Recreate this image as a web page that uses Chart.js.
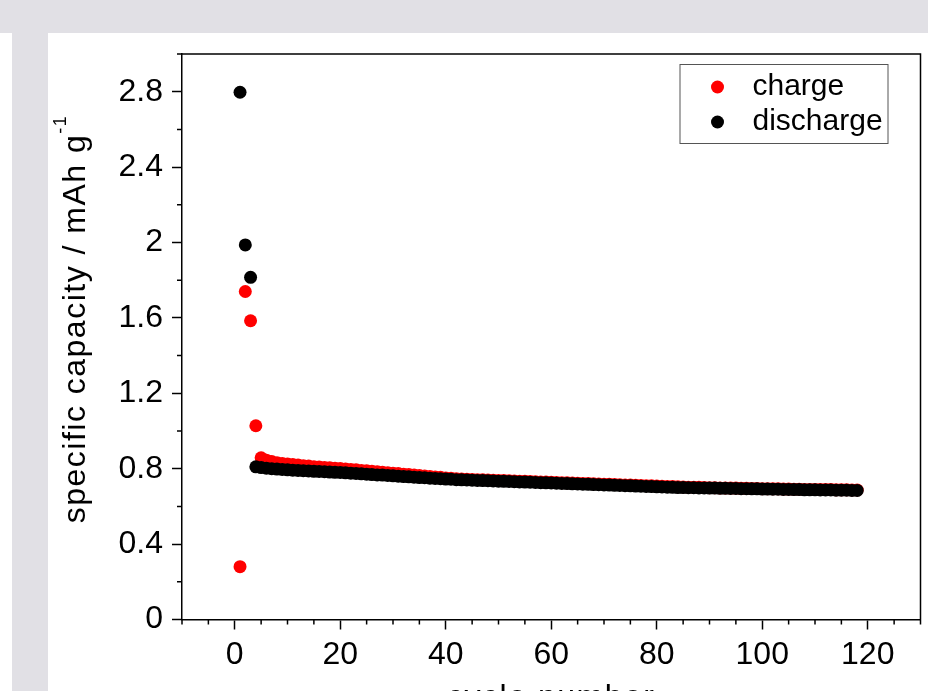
<!DOCTYPE html>
<html>
<head>
<meta charset="utf-8">
<title>specific capacity vs cycle number</title>
<script src="https://cdn.jsdelivr.net/npm/chart.js@4.4.1/dist/chart.umd.min.js"></script>
<style>
  html, body { margin: 0; padding: 0; background: #fff; overflow: hidden; }
  body { width: 928px; height: 691px; position: relative; }
  .band-top { position: absolute; left: 0; top: 0; width: 928px; height: 33px; background: #e1e0e5; }
  .band-left { position: absolute; left: 12px; top: 33px; width: 36px; height: 658px; background: #e1e0e5; }
  #capacity { position: absolute; left: 48px; top: 33px; }
</style>
</head>
<body>
<div class="band-top"></div>
<div class="band-left"></div>
<canvas id="capacity" width="880" height="658"></canvas>
<script>
// cycle index for every measured point
const cycles = [
  1, 2, 3, 4, 5, 6, 7, 8, 9, 10, 11, 12, 13, 14, 15, 16, 17, 18, 19, 20,
  21, 22, 23, 24, 25, 26, 27, 28, 29, 30, 31, 32, 33, 34, 35, 36, 37, 38, 39, 40,
  41, 42, 43, 44, 45, 46, 47, 48, 49, 50, 51, 52, 53, 54, 55, 56, 57, 58, 59, 60,
  61, 62, 63, 64, 65, 66, 67, 68, 69, 70, 71, 72, 73, 74, 75, 76, 77, 78, 79, 80,
  81, 82, 83, 84, 85, 86, 87, 88, 89, 90, 91, 92, 93, 94, 95, 96, 97, 98, 99, 100,
  101, 102, 103, 104, 105, 106, 107, 108, 109, 110, 111, 112, 113, 114, 115, 116, 117, 118
];

// specific capacity, mAh g^-1
const chargeCapacity = [
  0.280, 1.740, 1.585, 1.028, 0.858, 0.845, 0.838, 0.832, 0.828, 0.825,
  0.822, 0.819, 0.816, 0.814, 0.811, 0.809, 0.807, 0.805, 0.803, 0.801,
  0.799, 0.796, 0.794, 0.791, 0.789, 0.786, 0.784, 0.781, 0.779, 0.776,
  0.774, 0.771, 0.769, 0.766, 0.764, 0.761, 0.759, 0.756, 0.754, 0.751,
  0.749, 0.747, 0.745, 0.744, 0.743, 0.742, 0.741, 0.740, 0.739, 0.738,
  0.737, 0.736, 0.735, 0.734, 0.733, 0.732, 0.731, 0.730, 0.729, 0.728,
  0.727, 0.726, 0.725, 0.724, 0.723, 0.722, 0.721, 0.720, 0.719, 0.718,
  0.717, 0.716, 0.715, 0.714, 0.713, 0.712, 0.711, 0.710, 0.709, 0.708,
  0.707, 0.706, 0.705, 0.704, 0.703, 0.702, 0.702, 0.701, 0.700, 0.699,
  0.699, 0.698, 0.698, 0.697, 0.697, 0.696, 0.696, 0.695, 0.695, 0.694,
  0.694, 0.693, 0.693, 0.692, 0.692, 0.691, 0.691, 0.690, 0.690, 0.690,
  0.689, 0.689, 0.689, 0.688, 0.688, 0.688, 0.687, 0.687
];

const dischargeCapacity = [
  2.797, 1.987, 1.815, 0.810, 0.806, 0.803, 0.800, 0.798, 0.796, 0.794,
  0.792, 0.791, 0.789, 0.788, 0.786, 0.785, 0.784, 0.782, 0.781, 0.780,
  0.778, 0.776, 0.775, 0.773, 0.771, 0.769, 0.767, 0.766, 0.764, 0.762,
  0.760, 0.758, 0.757, 0.755, 0.753, 0.752, 0.750, 0.748, 0.747, 0.745,
  0.744, 0.742, 0.741, 0.740, 0.739, 0.738, 0.737, 0.736, 0.735, 0.734,
  0.733, 0.732, 0.731, 0.730, 0.729, 0.728, 0.727, 0.726, 0.725, 0.724,
  0.723, 0.722, 0.721, 0.720, 0.719, 0.718, 0.717, 0.716, 0.715, 0.714,
  0.713, 0.712, 0.711, 0.710, 0.709, 0.708, 0.707, 0.706, 0.705, 0.704,
  0.703, 0.702, 0.701, 0.700, 0.700, 0.699, 0.699, 0.698, 0.698, 0.697,
  0.697, 0.696, 0.696, 0.695, 0.695, 0.694, 0.694, 0.693, 0.693, 0.692,
  0.692, 0.691, 0.691, 0.690, 0.690, 0.689, 0.689, 0.688, 0.688, 0.688,
  0.687, 0.687, 0.687, 0.686, 0.686, 0.686, 0.685, 0.685
];

// axis ticks
const xTicks = [0, 20, 40, 60, 80, 100, 120];
const xTickLabels = ['0', '20', '40', '60', '80', '100', '120'];
const xMinorTicks = [-10, -5, 5, 10, 15, 25, 30, 35, 45, 50, 55, 65, 70, 75, 85, 90, 95, 105, 110, 115, 125, 130];
const yTicks = [0, 0.4, 0.8, 1.2, 1.6, 2.0, 2.4, 2.8];
const yTickLabels = ['0', '0.4', '0.8', '1.2', '1.6', '2', '2.4', '2.8'];
const yMinorTicks = [0.2, 0.6, 1.0, 1.4, 1.8, 2.2, 2.6, 3.0];

const FONT = 'Liberation Sans, Arial, Helvetica, sans-serif';
const tickFont = { family: FONT, size: 32 };

const toPoints = values => values.map((v, i) => ({ x: cycles[i], y: v }));

// frame, minor ticks, axis titles and the boxed legend
const plotDecor = {
  id: 'plotDecor',
  afterDraw(chart) {
    const { ctx, chartArea: a, scales: { x, y } } = chart;
    ctx.save();

    ctx.strokeStyle = '#000';
    ctx.lineWidth = 1.5;
    ctx.beginPath();
    ctx.moveTo(a.left, a.top);
    ctx.lineTo(a.right, a.top);
    ctx.lineTo(a.right, a.bottom);
    ctx.stroke();

    ctx.beginPath();
    xMinorTicks.forEach(v => {
      const px = x.getPixelForValue(v);
      ctx.moveTo(px, a.bottom);
      ctx.lineTo(px, a.bottom + 5);
    });
    yMinorTicks.forEach(v => {
      const py = y.getPixelForValue(v);
      ctx.moveTo(a.left, py);
      ctx.lineTo(a.left - 5, py);
    });
    ctx.stroke();

    ctx.fillStyle = '#000';
    ctx.letterSpacing = '1.5px';

    // x title
    ctx.font = `32px ${FONT}`;
    ctx.textAlign = 'center';
    ctx.textBaseline = 'alphabetic';
    ctx.fillText('cycle number', (a.left + a.right) / 2, a.bottom + 87);

    // y title with superscript
    const main = 'specific capacity / mAh g';
    const sup = '-1';
    ctx.font = `32px ${FONT}`;
    const wMain = ctx.measureText(main).width;
    ctx.font = `18px ${FONT}`;
    const wSup = ctx.measureText(sup).width;
    ctx.translate(37, 286);
    ctx.rotate(-Math.PI / 2);
    ctx.textAlign = 'left';
    const start = -(wMain + wSup) / 2;
    ctx.font = `32px ${FONT}`;
    ctx.fillText(main, start, 0);
    ctx.font = `18px ${FONT}`;
    ctx.fillText(sup, start + wMain, -19);
    ctx.setTransform(1, 0, 0, 1, 0, 0);
    ctx.letterSpacing = '0px';

    // legend box
    const lx = a.right - 241, ly = a.top + 10, lw = 208, lh = 79;
    ctx.strokeStyle = '#555';
    ctx.lineWidth = 1;
    ctx.strokeRect(lx + 0.5, ly + 0.5, lw, lh);
    ctx.font = `30px ${FONT}`;
    ctx.textAlign = 'left';
    chart.data.datasets.forEach((ds, i) => {
      const cy = ly + 23 + i * 35;
      ctx.fillStyle = ds.backgroundColor;
      ctx.beginPath();
      ctx.arc(lx + 38, cy, 6.5, 0, Math.PI * 2);
      ctx.fill();
      ctx.fillStyle = '#000';
      ctx.fillText(ds.label, lx + 73, cy + 8);
    });

    ctx.restore();
  }
};

new Chart(document.getElementById('capacity'), {
  type: 'scatter',
  data: {
    datasets: [
      {
        label: 'charge',
        data: toPoints(chargeCapacity),
        backgroundColor: '#ff0000',
        borderWidth: 0,
        pointRadius: 6.5,
        order: 1
      },
      {
        label: 'discharge',
        data: toPoints(dischargeCapacity),
        backgroundColor: '#000000',
        borderWidth: 0,
        pointRadius: 6.5,
        order: 0
      }
    ]
  },
  options: {
    responsive: false,
    animation: false,
    layout: { padding: { top: 21, right: 7.5, left: 0, bottom: 0 } },
    plugins: {
      legend: { display: false },
      tooltip: { enabled: false }
    },
    scales: {
      x: {
        type: 'linear',
        min: -10,
        max: 130,
        afterBuildTicks: s => { s.ticks = xTicks.map(v => ({ value: v })); },
        afterFit: s => { s.height = 71.5; s.paddingLeft = 0; s.paddingRight = 0; },
        grid: { drawOnChartArea: false, tickLength: 10, tickWidth: 1.5, tickColor: '#000' },
        border: { color: '#000', width: 1.5 },
        ticks: {
          font: tickFont,
          color: '#000',
          padding: 6,
          maxRotation: 0,
          callback: (v, i) => xTickLabels[i]
        }
      },
      y: {
        type: 'linear',
        min: 0,
        max: 3.0,
        afterBuildTicks: s => { s.ticks = yTicks.map(v => ({ value: v })); },
        afterFit: s => { s.width = 134; s.paddingTop = 0; s.paddingBottom = 0; },
        grid: { drawOnChartArea: false, tickLength: 10, tickWidth: 1.5, tickColor: '#000' },
        border: { color: '#000', width: 1.5 },
        ticks: {
          font: tickFont,
          color: '#000',
          padding: 9,
          callback: (v, i) => yTickLabels[i]
        }
      }
    }
  },
  plugins: [plotDecor]
});
</script>
</body>
</html>
